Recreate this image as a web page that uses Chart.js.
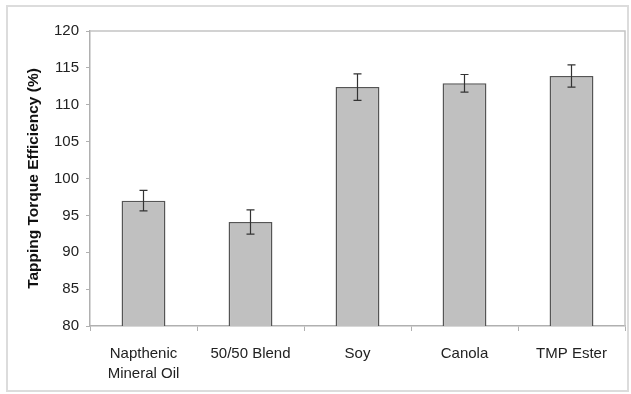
<!DOCTYPE html>
<html>
<head>
<meta charset="utf-8">
<script src="https://cdn.jsdelivr.net/npm/chart.js@4"></script>
<style>
  html, body { margin: 0; padding: 0; background: #fff; }
  #wrap { position: relative; width: 631px; height: 394px; }
  #frame { position: absolute; left: 6px; top: 5px; width: 619px; height: 383px; border: 2px solid #dcdcdc; }
  canvas { position: absolute; left: 0; top: 0; }
</style>
</head>
<body>
<div id="wrap">
  <div id="frame"></div>
  <canvas id="myChart" width="631" height="394"></canvas>
</div>
<script>
// data
const categories = [['Napthenic', 'Mineral Oil'], '50/50 Blend', 'Soy', 'Canola', 'TMP Ester'];
const efficiency = [97.0, 94.1, 112.4, 112.9, 113.9];
const errors = [1.4, 1.65, 1.8, 1.2, 1.5];
const yTicks = [80, 85, 90, 95, 100, 105, 110, 115, 120];

// plot frame + error bars
const extras = {
    id: 'extras',
    afterDatasetsDraw(chart) {
        const ctx = chart.ctx;
        const a = chart.chartArea;
        const x = chart.scales.x;
        const y = chart.scales.y;
        ctx.save();
        ctx.strokeStyle = '#c4c4c4';
        ctx.lineWidth = 1.5;
        ctx.beginPath();
        ctx.moveTo(a.left, a.top);
        ctx.lineTo(a.right, a.top);
        ctx.lineTo(a.right, a.bottom);
        ctx.stroke();

        ctx.strokeStyle = '#333';
        ctx.lineWidth = 1.2;
        efficiency.forEach((v, i) => {
            const cx = x.getPixelForValue(i);
            const yt = y.getPixelForValue(v + errors[i]);
            const yb = y.getPixelForValue(v - errors[i]);
            ctx.beginPath();
            ctx.moveTo(cx, yt); ctx.lineTo(cx, yb);
            ctx.moveTo(cx - 4, yt); ctx.lineTo(cx + 4, yt);
            ctx.moveTo(cx - 4, yb); ctx.lineTo(cx + 4, yb);
            ctx.stroke();
        });
        ctx.restore();
    }
};

const ctx = document.getElementById('myChart').getContext('2d');
const myChart = new Chart(ctx, {
    type: 'bar',
    data: {
        labels: categories,
        datasets: [{
            data: efficiency,
            backgroundColor: '#c0c0c0',
            borderColor: '#555',
            borderWidth: 1.5,
            barPercentage: 0.41,
            categoryPercentage: 1.0
        }]
    },
    options: {
        responsive: false,
        animation: false,
        layout: { padding: { left: 22, top: 31, right: 6, bottom: 0 } },
        plugins: {
            legend: { display: false },
            tooltip: { enabled: false }
        },
        scales: {
            x: {
                grid: { display: true, drawOnChartArea: false, offset: true, tickLength: 5, color: '#b0b0b0' },
                border: { color: '#b0b0b0', width: 1.5 },
                ticks: {
                    color: '#222',
                    padding: 13,
                    maxRotation: 0,
                    font: { family: 'Liberation Sans, Arial', size: 15, lineHeight: 1.33 }
                },
                afterFit(scale) { scale.height = 68; }
            },
            y: {
                min: 80,
                max: 120,
                afterBuildTicks(scale) { scale.ticks = yTicks.map(v => ({ value: v })); },
                grid: { display: true, drawOnChartArea: false, tickLength: 4, color: '#b0b0b0' },
                border: { color: '#b0b0b0', width: 1.5 },
                ticks: {
                    color: '#222',
                    padding: 7,
                    font: { family: 'Liberation Sans, Arial', size: 15 }
                },
                title: {
                    display: true,
                    text: 'Tapping Torque Efficiency (%)',
                    color: '#111',
                    padding: { top: 2, bottom: 4 },
                    font: { family: 'Liberation Sans, Arial', size: 15.5, weight: 'bold' }
                },
                afterFit(scale) { scale.width = 68; }
            }
        }
    },
    plugins: [extras]
});
</script>
</body>
</html>
